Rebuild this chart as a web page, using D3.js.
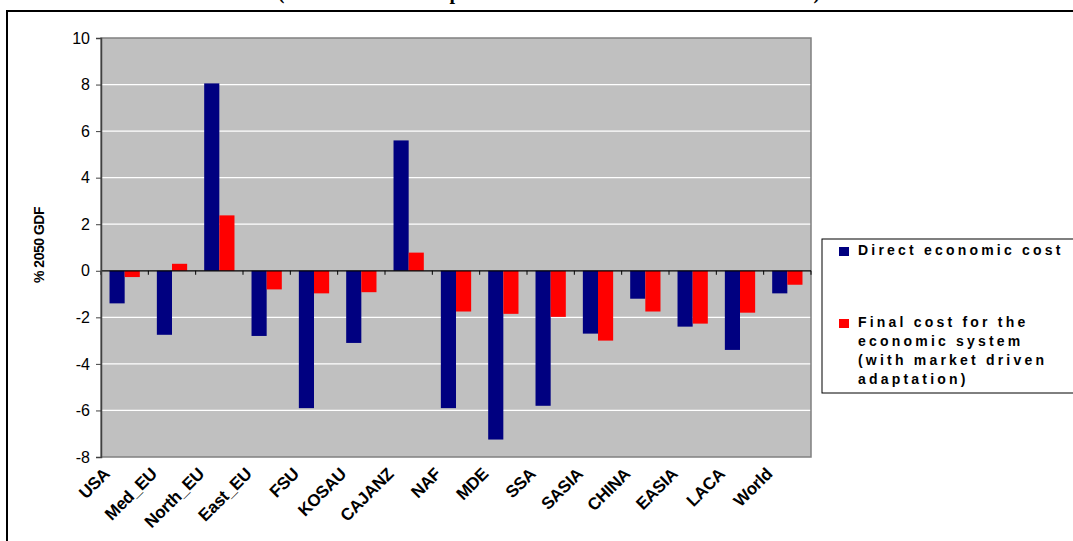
<!DOCTYPE html>
<html>
<head>
<meta charset="utf-8">
<script src="https://cdn.jsdelivr.net/npm/d3@7"></script>
<style>
  html, body { margin: 0; padding: 0; background: #ffffff; overflow: hidden; }
  svg { display: block; }
</style>
</head>
<body>
<svg id="chart" width="1073" height="541"></svg>
<script>
// Regions along the horizontal axis
const regions = ["USA", "Med_EU", "North_EU", "East_EU", "FSU", "KOSAU", "CAJANZ",
                 "NAF", "MDE", "SSA", "SASIA", "CHINA", "EASIA", "LACA", "World"];

// Series values, % of 2050 GDP
const directCost = [-1.4, -2.75, 8.05, -2.8, -5.9, -3.1, 5.6,
                    -5.9, -7.25, -5.8, -2.7, -1.2, -2.4, -3.4, -0.97];
const finalCost  = [-0.27, 0.3, 2.38, -0.8, -0.97, -0.92, 0.78,
                    -1.75, -1.85, -1.98, -3.0, -1.75, -2.27, -1.8, -0.6];

const seriesNames = ["Direct economic cost",
                     "Final cost for the economic system (with market driven adaptation)"];
const legendLines = [["Direct economic cost"],
                     ["Final cost for the", "economic system", "(with market driven", "adaptation)"]];
const seriesColors = ["#000080", "#ff0000"];

const yTicks = [-8, -6, -4, -2, 0, 2, 4, 6, 8, 10];
const yLabel = "% 2050 GDF";
const titleText = "(Direct economic impacts and final costs with market reactions)";

const svg = d3.select("#chart");

// Outer frame of the chart object
svg.append("rect")
  .attr("x", 7).attr("y", 11).attr("width", 1200).attr("height", 700)
  .attr("fill", "#ffffff").attr("stroke", "#000000").attr("stroke-width", 2);

// Title (runs above the frame)
svg.append("text")
  .attr("x", 549).attr("y", -1)
  .attr("text-anchor", "middle")
  .attr("font-family", "Liberation Serif, Times New Roman, serif")
  .attr("font-weight", "bold").attr("font-size", 20)
  .text(titleText);

const plot = { left: 101, right: 811, top: 38, bottom: 457 };

const y = d3.scaleLinear().domain([-8, 10]).range([plot.bottom, plot.top]);
const x0 = d3.scaleBand().domain(regions).range([plot.left, plot.right]).padding(0);
const bw = x0.bandwidth();
const x1 = d3.scaleBand().domain([0, 1]).range([bw * 0.18, bw * 0.82]).padding(0);

// Plot background
svg.append("rect")
  .attr("x", plot.left).attr("y", plot.top)
  .attr("width", plot.right - plot.left).attr("height", plot.bottom - plot.top)
  .attr("fill", "#c0c0c0");

// Horizontal gridlines
svg.append("g").selectAll("line")
  .data(yTicks.filter(t => t !== 0 && t !== 10 && t !== -8))
  .join("line")
  .attr("x1", plot.left).attr("x2", plot.right)
  .attr("y1", d => y(d)).attr("y2", d => y(d))
  .attr("stroke", "#ffffff").attr("stroke-width", 1.2);

// Plot border
svg.append("rect")
  .attr("x", plot.left).attr("y", plot.top)
  .attr("width", plot.right - plot.left).attr("height", plot.bottom - plot.top)
  .attr("fill", "none").attr("stroke", "#808080").attr("stroke-width", 1.5);

// Bars
const rows = regions.map((r, i) => ({ region: r, values: [directCost[i], finalCost[i]] }));
const groups = svg.append("g").selectAll("g")
  .data(rows).join("g")
  .attr("transform", d => `translate(${x0(d.region)},0)`);

groups.selectAll("rect")
  .data(d => d.values.map((v, k) => ({ k, v })))
  .join("rect")
  .attr("x", d => x1(d.k))
  .attr("width", x1.bandwidth())
  .attr("y", d => Math.min(y(d.v), y(0)))
  .attr("height", d => Math.abs(y(d.v) - y(0)))
  .attr("fill", d => seriesColors[d.k]);

// Category axis along zero
const xAxis = svg.append("g");
xAxis.append("line")
  .attr("x1", plot.left).attr("x2", plot.right)
  .attr("y1", y(0)).attr("y2", y(0))
  .attr("stroke", "#000000").attr("stroke-width", 1.2);
xAxis.selectAll("line.tick")
  .data(d3.range(regions.length + 1))
  .join("line").attr("class", "tick")
  .attr("x1", i => plot.left + i * bw).attr("x2", i => plot.left + i * bw)
  .attr("y1", y(0)).attr("y2", y(0) + 4)
  .attr("stroke", "#000000").attr("stroke-width", 1);

// Category labels, slanted
svg.append("g").selectAll("text")
  .data(regions).join("text")
  .attr("transform", d => `translate(${x0(d) + bw / 2 - 14},${plot.bottom + 18}) rotate(-45)`)
  .attr("text-anchor", "end")
  .attr("font-family", "Liberation Sans, Arial, sans-serif")
  .attr("font-weight", "bold").attr("font-size", 17)
  .attr("letter-spacing", "-0.3")
  .text(d => d);

// Value axis
const yAxis = d3.axisLeft(y).tickValues(yTicks).tickSize(5).tickPadding(6)
  .tickFormat(d => String(d));
const ya = svg.append("g").attr("transform", `translate(${plot.left},0)`).call(yAxis);
ya.select(".domain").attr("stroke", "#404040").attr("stroke-width", 1.5);
ya.selectAll(".tick line").attr("stroke", "#404040");
ya.selectAll(".tick text")
  .attr("font-family", "Liberation Sans, Arial, sans-serif")
  .attr("font-size", 16).attr("fill", "#000000");

// Axis title
svg.append("text")
  .attr("transform", `translate(44,245) rotate(-90)`)
  .attr("text-anchor", "middle")
  .attr("font-family", "Liberation Sans, Arial, sans-serif")
  .attr("font-weight", "bold").attr("font-size", 14)
  .attr("letter-spacing", "-0.5")
  .text(yLabel);

// Legend
const legend = svg.append("g");
legend.append("rect")
  .attr("x", 822).attr("y", 239).attr("width", 400).attr("height", 154)
  .attr("fill", "#ffffff").attr("stroke", "#000000").attr("stroke-width", 1);

const legendTop = [255, 327];
legendLines.forEach((lines, k) => {
  legend.append("rect")
    .attr("x", 839).attr("y", legendTop[k] - 8).attr("width", 10).attr("height", 9)
    .attr("fill", seriesColors[k]);
  const t = legend.append("text")
    .attr("font-family", "Liberation Sans, Arial, sans-serif")
    .attr("font-weight", "bold").attr("font-size", 14)
    .attr("letter-spacing", "3.2");
  lines.forEach((ln, j) => {
    t.append("tspan").attr("x", 858).attr("y", legendTop[k] + j * 19).text(ln);
  });
});
</script>
</body>
</html>
